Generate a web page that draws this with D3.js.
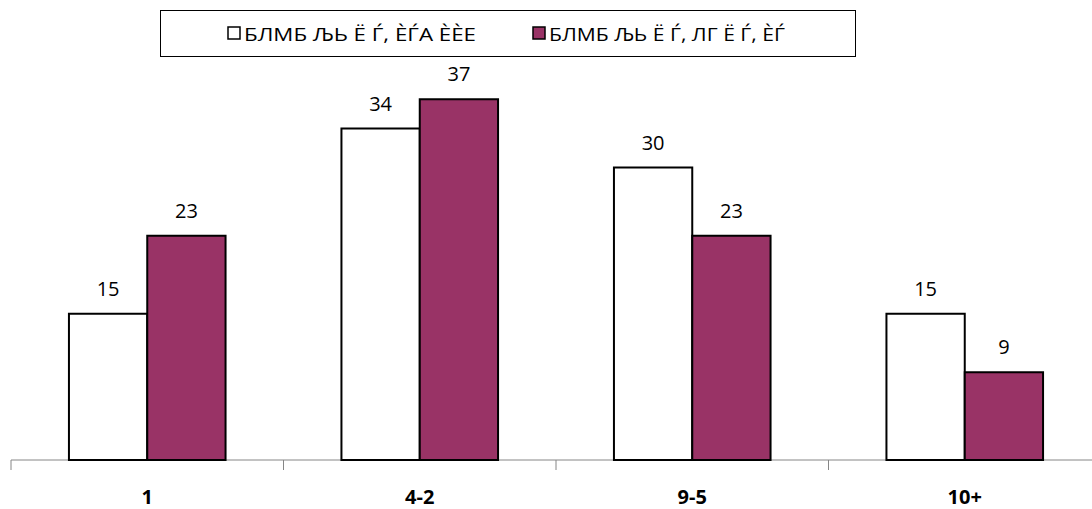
<!DOCTYPE html>
<html>
<head>
<meta charset="utf-8">
<script src="https://cdn.jsdelivr.net/npm/d3@7"></script>
<style>
	body { margin: 0; background: #fff; }
	text { font-family: "Open Sans", "Liberation Sans", sans-serif; }
</style>
</head>
<body>
<div id="chart"></div>
<script>
// categories and two series
var categories = ["1", "4-2", "9-5", "10+"];
var seriesNames = ["БЛМБ ЉЬ Ё Ѓ, ÈЃА ÈÈЕ", "БЛМБ ЉЬ Ё Ѓ, ЛГ  Ё Ѓ, ÈЃ"];
var seriesA = [15, 34, 30, 15];
var seriesB = [23, 37, 23, 9];
var colors = ["#ffffff", "#993366"];

var W = 1092, H = 509;
var svg = d3.select("#chart").append("svg").attr("width", W).attr("height", H);

var x = d3.scaleBand().domain(categories).range([11, 1101]);
var sub = d3.scaleBand().domain([0, 1]).range([0, x.bandwidth()]).paddingOuter(0.74).paddingInner(0);
var y = d3.scaleLinear().domain([0, 40]).range([460, 70]);

// axis
var axis = svg.append("g").attr("transform", "translate(0,460)");
axis.append("line").attr("x1", 11).attr("x2", W).attr("stroke", "#868686").attr("stroke-width", 1);
axis.selectAll("line.tick").data(categories).enter().append("line")
	.attr("class", "tick")
	.attr("x1", function (d) { return x(d); }).attr("x2", function (d) { return x(d); })
	.attr("y1", 0).attr("y2", 10).attr("stroke", "#868686");
axis.selectAll("text").data(categories).enter().append("text")
	.attr("x", function (d) { return x(d) + x.bandwidth() / 2; })
	.attr("y", 44).attr("text-anchor", "middle")
	.attr("font-size", 20).attr("font-weight", "bold").attr("fill", "#000")
	.text(function (d) { return d; });

// bars
[seriesA, seriesB].forEach(function (vals, s) {
	var g = svg.append("g");
	g.selectAll("rect").data(vals).enter().append("rect")
		.attr("x", function (d, i) { return x(categories[i]) + sub(s); })
		.attr("y", function (d) { return y(d); })
		.attr("width", sub.bandwidth())
		.attr("height", function (d) { return y(0) - y(d); })
		.attr("fill", colors[s]).attr("stroke", "#000").attr("stroke-width", 2);
	g.selectAll("text").data(vals).enter().append("text")
		.attr("x", function (d, i) { return x(categories[i]) + sub(s) + sub.bandwidth() / 2; })
		.attr("y", function (d) { return y(d) - 18; })
		.attr("text-anchor", "middle").attr("font-size", 20).attr("fill", "#000")
		.text(function (d) { return d; });
});

// legend
var lg = svg.append("g");
lg.append("rect").attr("x", 160.5).attr("y", 10.5).attr("width", 695).attr("height", 46)
	.attr("fill", "#fff").attr("stroke", "#000").attr("stroke-width", 1);
var legX = [228, 533];
var legLen = [232, 236];
seriesNames.forEach(function (name, s) {
	lg.append("rect").attr("x", legX[s]).attr("y", 27).attr("width", 12).attr("height", 12)
		.attr("fill", colors[s]).attr("stroke", "#000").attr("stroke-width", 1.5);
	lg.append("text").attr("x", legX[s] + 16).attr("y", 41)
		.attr("font-size", 19).attr("fill", "#000")
		.attr("textLength", legLen[s]).attr("lengthAdjust", "spacingAndGlyphs")
		.text(name);
});
</script>
</body>
</html>
